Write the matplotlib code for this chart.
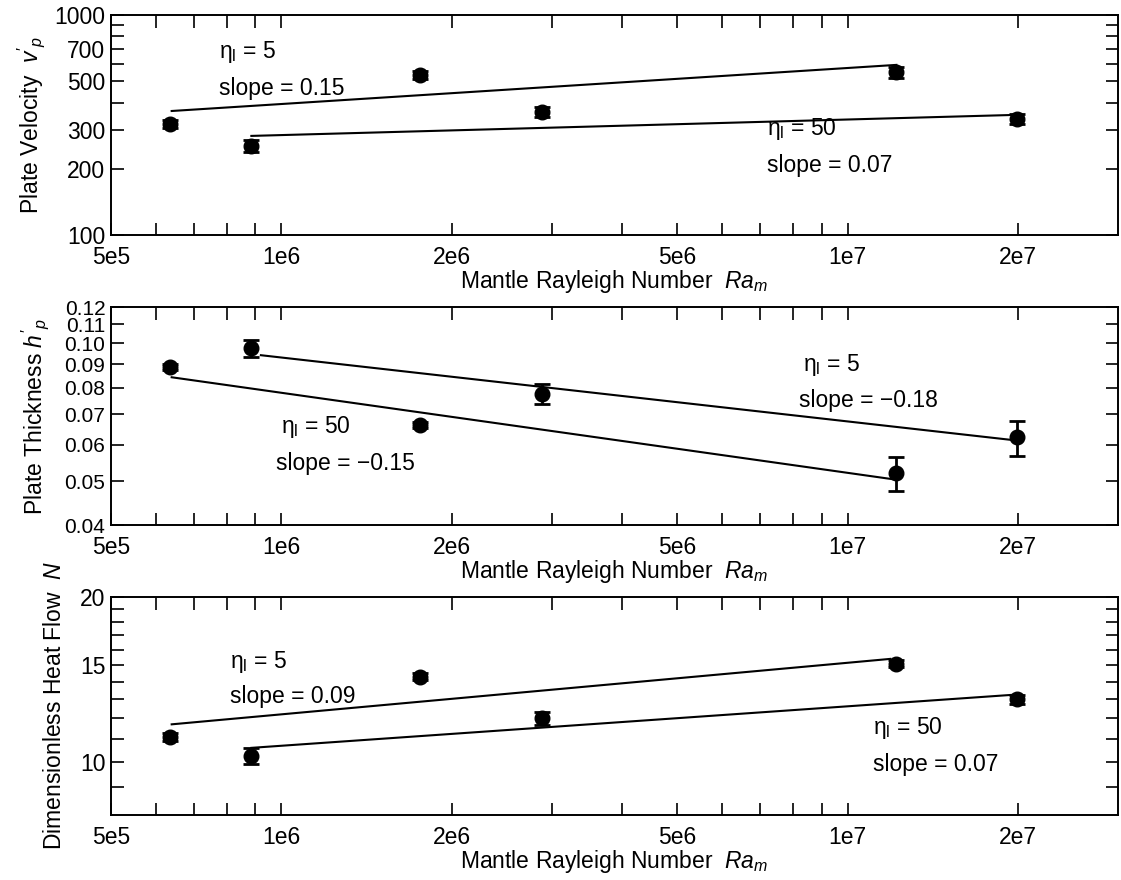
import numpy as np
import matplotlib
matplotlib.use('Agg')
import matplotlib.pyplot as plt
from matplotlib.ticker import FixedLocator, NullFormatter

plt.rcParams['font.family'] = ['Liberation Sans', 'DejaVu Sans']
plt.rcParams['mathtext.fontset'] = 'custom'
plt.rcParams['mathtext.rm'] = 'Liberation Sans'
plt.rcParams['mathtext.it'] = 'Liberation Sans:italic'
plt.rcParams['font.size'] = 16.5

# mantle Rayleigh numbers of the six runs
ra = [6.36e5, 8.85e5, 1.76e6, 2.89e6, 1.22e7, 1.99e7]

# plate velocity
vel = [320, 254, 534, 362, 551, 337]
vel_err = [14, 16, 22, 18, 32, 18]
vel_fit5_x, vel_fit5_y = [6.4e5, 1.22e7], [366, 593]
vel_fit50_x, vel_fit50_y = [8.85e5, 1.95e7], [282, 351]

# plate thickness
thk = [0.0887, 0.0976, 0.0662, 0.0774, 0.0520, 0.0623]
thk_err = [0.0012, 0.0041, 0.0010, 0.0039, 0.0045, 0.0055]
thk_fit5_x, thk_fit5_y = [9.2e5, 1.97e7], [0.0942, 0.0614]
thk_fit50_x, thk_fit50_y = [6.4e5, 1.21e7], [0.0843, 0.0504]

# heat flow
hf = [11.1, 10.25, 14.3, 12.0, 15.1, 13.0]
hf_err = [0.18, 0.35, 0.2, 0.32, 0.22, 0.25]
hf_fit5_x, hf_fit5_y = [6.4e5, 1.19e7], [11.7, 15.4]
hf_fit50_x, hf_fit50_y = [8.85e5, 1.97e7], [10.6, 13.25]

x_major = [5e5, 1e6, 2e6, 5e6, 1e7, 2e7]
x_major_lab = ['5e5', '1e6', '2e6', '5e6', '1e7', '2e7']
x_minor = [6e5, 7e5, 8e5, 9e5, 3e6, 4e6, 6e6, 7e6, 8e6, 9e6]

fig = plt.figure(figsize=(11.21, 8.8), dpi=100)
ax1 = fig.add_axes([0.099, 0.733, 0.898, 0.250])
ax2 = fig.add_axes([0.099, 0.403, 0.898, 0.248])
ax3 = fig.add_axes([0.099, 0.074, 0.898, 0.248])

def setup(ax, ylim, ymaj, ymaj_lab, ymin, ylabel, lpad, ysize=16.5):
    ax.set_xscale('log')
    ax.set_yscale('log')
    ax.set_xlim(5e5, 3e7)
    ax.set_ylim(*ylim)
    ax.xaxis.set_major_locator(FixedLocator(x_major))
    ax.xaxis.set_minor_locator(FixedLocator(x_minor))
    ax.set_xticklabels(x_major_lab)
    ax.xaxis.set_minor_formatter(NullFormatter())
    ax.yaxis.set_major_locator(FixedLocator(ymaj))
    ax.yaxis.set_minor_locator(FixedLocator(ymin))
    ax.set_yticklabels(ymaj_lab)
    ax.yaxis.set_minor_formatter(NullFormatter())
    ax.tick_params(which='both', direction='in', top=True, right=True,
                   length=9, width=1.2)
    ax.tick_params(axis='x', pad=8, labelsize=16.5)
    ax.tick_params(axis='y', pad=4, labelsize=ysize)
    for s in ax.spines.values():
        s.set_linewidth(1.4)
    ax.set_xlabel(r'Mantle Rayleigh Number  $Ra_m$', labelpad=-1)
    ax.set_ylabel(ylabel, labelpad=lpad)

def draw(ax, y, yerr, f5x, f5y, f50x, f50y):
    ax.plot(f5x, f5y, color='k', lw=1.5)
    ax.plot(f50x, f50y, color='k', lw=1.5)
    ax.errorbar(ra, y, yerr=yerr, fmt='o', color='k', ms=10.5,
                capsize=6, elinewidth=2, capthick=2)

eta = r'$\mathrm{\eta}_{\rm l}$'

# top panel
setup(ax1, (100, 1000), [100, 200, 300, 500, 700, 1000],
      ['100', '200', '300', '500', '700', '1000'], [400, 600, 800, 900],
      r"Plate Velocity  $v'_p$", 5)
draw(ax1, vel, vel_err, vel_fit5_x, vel_fit5_y, vel_fit50_x, vel_fit50_y)
ax1.text(7.75e5, 679, eta + ' = 5', va='center')
ax1.text(7.75e5, 462, 'slope = 0.15', va='center')
ax1.text(7.2e6, 303, eta + ' = 50', va='center')
ax1.text(7.2e6, 206, 'slope = 0.07', va='center')

# middle panel
hv = [0.04, 0.05, 0.06, 0.07, 0.08, 0.09, 0.10, 0.11, 0.12]
setup(ax2, (0.04, 0.12), hv, ['%.2f' % v for v in hv], [],
      r"Plate Thickness $h'_p$", 10, ysize=15)
draw(ax2, thk, thk_err, thk_fit5_x, thk_fit5_y, thk_fit50_x, thk_fit50_y)
ax2.text(8.36e6, 0.0896, eta + ' = 5', va='center')
ax2.text(8.2e6, 0.0751, 'slope = \u22120.18', va='center')
ax2.text(1.0e6, 0.0656, eta + ' = 50', va='center')
ax2.text(0.98e6, 0.0547, 'slope = \u22120.15', va='center')

# bottom panel
setup(ax3, (8, 20), [10, 15, 20], ['10', '15', '20'],
      [9, 11, 12, 13, 14, 16, 17, 18, 19],
      r'Dimensionless Heat Flow  $N$', 10)
draw(ax3, hf, hf_err, hf_fit5_x, hf_fit5_y, hf_fit50_x, hf_fit50_y)
ax3.text(8.12e5, 15.2, eta + ' = 5', va='center')
ax3.text(8.12e5, 13.13, 'slope = 0.09', va='center')
ax3.text(1.107e7, 11.53, eta + ' = 50', va='center')
ax3.text(1.107e7, 9.87, 'slope = 0.07', va='center')

fig.savefig('out.png', dpi=100)
